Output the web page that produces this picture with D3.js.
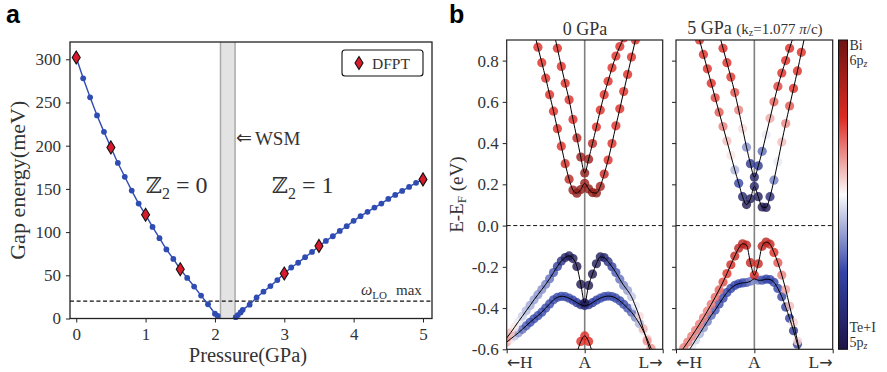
<!DOCTYPE html>
<html><head><meta charset="utf-8">
<script src="https://cdn.jsdelivr.net/npm/d3@7"></script>
<style>
body{margin:0;background:#fff}
svg text{font-family:"Liberation Serif","Times New Roman",serif;fill:#333}
.panel{font-family:"Liberation Sans",Arial,sans-serif !important;font-weight:bold;fill:#000 !important}
</style>
</head><body><svg id="fig" width="887" height="372"></svg>
<script>
// ---------- (a) gap energy vs pressure ----------
const pressureLow = [0,0.1,0.2,0.3,0.4,0.5,0.6,0.7,0.8,0.9,1.0,1.1,1.2,1.3,1.4,1.5,1.6,1.7,1.8,1.9,2.0,2.04];
const gapLow      = [302,278,256,235,216,198,180,164,148,133,120,106,93,80,69,57,47,37,26.5,16.5,5.5,3];
const pressureHigh = [2.3,2.33,2.37,2.4,2.5,2.6,2.7,2.8,2.9,3.0,3.1,3.2,3.3,3.4,3.5,3.6,3.7,3.8,3.9,4.0,4.1,4.2,4.3,4.4,4.5,4.6,4.7,4.8,4.9,5.0];
const gapHigh      = [1.5,4,7,10,16,24.3,31,37.5,44.5,52,59,64.5,71,77,83.6,89.8,95.2,101.4,106.8,113,118.4,123.4,128.4,133,138.4,143,147.6,152.3,157,161];
const dfptPressure = [0,0.5,1.0,1.5,3.0,3.5,5.0];
const dfptGap      = [302,198,120,57,52,84,161];
const wsmRange = [2.08,2.29];
const omegaLOmax = 20;
const pressureTicks = [0,1,2,3,4,5];
const gapTicks = [0,50,100,150,200,250,300];

// ---------- (b) band structures along H-A-L ----------
const kPath = [-1,-0.95,-0.9,-0.85,-0.8,-0.75,-0.7,-0.65,-0.6,-0.55,-0.5,-0.45,-0.4,-0.35,-0.3,-0.25,-0.2,-0.15,-0.1,-0.05,0,0.05,0.1,0.15,0.2,0.25,0.3,0.35,0.4,0.45,0.5,0.55,0.6,0.65,0.7,0.75,0.8,0.85,0.9,0.95,1];
const energyTicks = [-0.6,-0.4,-0.2,0,0.2,0.4,0.6,0.8];
const kLabels = ["H","A","L"];

// 0 GPa: energies (eV) and Bi-6pz (+) / Te+I-5pz (−) character
const gp0_c1_E = [1.50,1.42,1.34,1.26,1.18,1.10,1.02,0.94,0.865,0.79,0.715,0.635,0.555,0.47,0.385,0.30,0.225,0.172,0.157,0.175,0.205,0.178,0.16,0.158,0.19,0.25,0.318,0.398,0.484,0.566,0.65,0.733,0.817,0.90,0.98,1.06,1.14,1.22,1.30,1.38,1.46];
const gp0_c1_w = [0.5,0.5,0.5,0.5,0.5,0.5,0.5,0.5,0.5,0.5,0.5,0.5,0.5,0.5,0.5,0.55,0.65,0.8,0.85,0.85,0.8,0.85,0.85,0.85,0.75,0.6,0.5,0.5,0.5,0.5,0.5,0.5,0.5,0.5,0.5,0.5,0.5,0.5,0.5,0.5,0.5];
const gp0_c2_E = [1.965,1.88,1.795,1.71,1.625,1.54,1.455,1.37,1.285,1.2,1.115,1.03,0.945,0.86,0.772,0.69,0.61,0.515,0.425,0.332,0.255,0.322,0.398,0.478,0.56,0.635,0.70,0.765,0.822,0.868,0.91,0.955,1.0,1.05,1.1,1.15,1.2,1.25,1.3,1.35,1.4];
const gp0_c2_w = [0.5,0.5,0.5,0.5,0.5,0.5,0.5,0.5,0.5,0.5,0.5,0.5,0.5,0.5,0.5,0.5,0.5,0.5,0.65,0.8,0.85,0.8,0.65,0.5,0.5,0.5,0.5,0.5,0.5,0.5,0.5,0.5,0.5,0.5,0.5,0.5,0.5,0.5,0.5,0.5,0.5];
const gp0_v1_E = [-0.545,-0.52,-0.493,-0.466,-0.44,-0.413,-0.387,-0.36,-0.335,-0.31,-0.285,-0.258,-0.228,-0.198,-0.172,-0.155,-0.147,-0.16,-0.198,-0.285,-0.375,-0.29,-0.235,-0.185,-0.152,-0.155,-0.175,-0.2,-0.228,-0.26,-0.29,-0.315,-0.345,-0.39,-0.44,-0.5,-0.56,-0.62,-0.68,-0.74,-0.8];
const gp0_v1_w = [0.25,0.15,0.05,-0.05,-0.12,-0.18,-0.22,-0.25,-0.28,-0.3,-0.33,-0.38,-0.45,-0.55,-0.7,-0.82,-0.9,-0.92,-0.95,-0.95,-0.95,-0.95,-0.95,-0.92,-0.9,-0.82,-0.7,-0.55,-0.45,-0.38,-0.32,-0.25,-0.15,-0.05,0.08,0.18,0.25,0.3,0.3,0.3,0.3];
const gp0_v2_E = [-0.565,-0.55,-0.535,-0.52,-0.503,-0.486,-0.469,-0.452,-0.437,-0.42,-0.4,-0.38,-0.36,-0.348,-0.343,-0.345,-0.352,-0.362,-0.374,-0.384,-0.388,-0.384,-0.374,-0.362,-0.352,-0.345,-0.342,-0.344,-0.352,-0.365,-0.382,-0.4,-0.42,-0.445,-0.475,-0.51,-0.55,-0.595,-0.64,-0.685,-0.73];
const gp0_v2_w = [0.2,0.05,-0.15,-0.28,-0.38,-0.44,-0.48,-0.48,-0.48,-0.48,-0.48,-0.48,-0.48,-0.48,-0.48,-0.48,-0.48,-0.5,-0.55,-0.65,-0.75,-0.65,-0.55,-0.5,-0.48,-0.48,-0.48,-0.48,-0.48,-0.48,-0.48,-0.45,-0.4,-0.32,-0.2,-0.05,0.12,0.25,0.25,0.25,0.25];
const kLambda   = [-0.2,-0.15,-0.1,-0.05,0,0.05,0.1,0.15,0.2];
const gp0_v3_E  = [-0.8,-0.7,-0.62,-0.562,-0.535,-0.562,-0.62,-0.7,-0.8];
const gp0_v3_w  = [0.5,0.5,0.5,0.5,0.5,0.5,0.5,0.5,0.5];

// 5 GPa (kz = 1.077 pi/c)
const gp5_c1_E = [1.32,1.25,1.18,1.11,1.04,0.97,0.9,0.83,0.76,0.69,0.62,0.55,0.48,0.41,0.34,0.27,0.205,0.14,0.102,0.13,0.19,0.14,0.09,0.088,0.14,0.22,0.31,0.405,0.495,0.58,0.665,0.75,0.84,0.93,1.02,1.11,1.2,1.29,1.38,1.47,1.56];
const gp5_c1_w = [0.5,0.5,0.5,0.5,0.5,0.5,0.5,0.5,0.5,0.5,0.45,0.4,0.3,0.15,0.05,-0.2,-0.5,-0.8,-0.95,-0.9,-0.85,-0.9,-0.95,-0.95,-0.75,-0.35,-0.05,0.15,0.28,0.4,0.5,0.5,0.5,0.5,0.5,0.5,0.5,0.5,0.5,0.5,0.5];
const gp5_c2_E = [1.8,1.72,1.64,1.56,1.48,1.4,1.32,1.24,1.16,1.08,1.0,0.93,0.86,0.79,0.72,0.645,0.56,0.47,0.38,0.3,0.235,0.29,0.36,0.44,0.52,0.6,0.675,0.74,0.8,0.86,0.92,0.98,1.04,1.1,1.16,1.22,1.28,1.34,1.4,1.46,1.52];
const gp5_c2_w = [0.5,0.5,0.5,0.5,0.5,0.5,0.5,0.5,0.5,0.5,0.5,0.5,0.5,0.5,0.48,0.42,0.3,0.08,-0.3,-0.65,-0.85,-0.65,-0.4,-0.05,0.2,0.38,0.45,0.5,0.5,0.5,0.5,0.5,0.5,0.5,0.5,0.5,0.5,0.5,0.5,0.5,0.5];
const gp5_v1_E = [-0.645,-0.62,-0.592,-0.565,-0.537,-0.508,-0.478,-0.447,-0.415,-0.382,-0.348,-0.312,-0.274,-0.233,-0.19,-0.148,-0.11,-0.088,-0.095,-0.18,-0.24,-0.185,-0.1,-0.08,-0.09,-0.13,-0.18,-0.24,-0.31,-0.39,-0.47,-0.56,-0.65,-0.74,-0.83,-0.92,-1.01,-1.1,-1.19,-1.28,-1.37];
const gp5_v1_w = [0.3,0.3,0.3,0.3,0.3,0.3,0.3,0.3,0.3,0.32,0.35,0.38,0.42,0.48,0.55,0.6,0.65,0.65,0.65,0.6,0.5,0.6,0.65,0.65,0.6,0.5,0.4,0.3,0.22,0.15,0.1,0.1,0.1,0.1,0.1,0.1,0.1,0.1,0.1,0.1,0.1];
const gp5_v2_E = [-0.72,-0.69,-0.655,-0.615,-0.585,-0.555,-0.525,-0.495,-0.465,-0.435,-0.41,-0.38,-0.352,-0.325,-0.305,-0.29,-0.282,-0.278,-0.276,-0.27,-0.258,-0.265,-0.265,-0.26,-0.262,-0.275,-0.305,-0.345,-0.395,-0.45,-0.51,-0.575,-0.64,-0.71,-0.78,-0.85,-0.92,-0.99,-1.06,-1.13,-1.2];
const gp5_v2_w = [0.2,0.15,0.1,0.05,-0.05,-0.12,-0.2,-0.28,-0.35,-0.4,-0.45,-0.48,-0.5,-0.5,-0.5,-0.5,-0.5,-0.5,-0.45,-0.35,-0.28,-0.35,-0.45,-0.5,-0.5,-0.5,-0.5,-0.5,-0.55,-0.55,-0.6,-0.6,-0.6,-0.6,-0.6,-0.6,-0.6,-0.6,-0.6,-0.6,-0.6];

const svg = d3.select("#fig");

// ================= panel (a) =================
const PA = {x0:70, x1:432, y0:42, y1:318.5};
const xA = d3.scaleLinear().domain([-0.09,5.13]).range([PA.x0,PA.x1]);
const yA = d3.scaleLinear().domain([0,320]).range([PA.y1,PA.y0]);
const ga = svg.append("g");

ga.append("rect").attr("x",xA(wsmRange[0])).attr("y",PA.y0)
  .attr("width",xA(wsmRange[1])-xA(wsmRange[0])).attr("height",PA.y1-PA.y0).attr("fill","#e3e3e3");
wsmRange.forEach(p => ga.append("line").attr("x1",xA(p)).attr("x2",xA(p)).attr("y1",PA.y0).attr("y2",PA.y1)
  .attr("stroke","#aaa").attr("stroke-width",1.5));

ga.append("line").attr("x1",PA.x0).attr("x2",PA.x1).attr("y1",yA(omegaLOmax)).attr("y2",yA(omegaLOmax))
  .attr("stroke","#111").attr("stroke-width",1.2).attr("stroke-dasharray","4,2.6");

const blue = "#2f4cb3";
const lineA = d3.line().x(d=>xA(d[0])).y(d=>yA(d[1]));
[[pressureLow,gapLow],[pressureHigh,gapHigh]].forEach(([ps,gs]) => {
  const pts = ps.map((p,i)=>[p,gs[i]]);
  ga.append("path").attr("d",lineA(pts)).attr("fill","none").attr("stroke",blue).attr("stroke-width",1.4);
  ga.selectAll(null).data(pts).enter().append("circle")
    .attr("cx",d=>xA(d[0])).attr("cy",d=>yA(d[1])).attr("r",2.9).attr("fill",blue);
});
const diamond = "M0,-6.5L4,0L0,6.5L-4,0Z";
ga.selectAll(null).data(dfptPressure.map((p,i)=>[p,dfptGap[i]])).enter().append("path")
  .attr("d",diamond).attr("transform",d=>`translate(${xA(d[0])},${yA(d[1])})`)
  .attr("fill","#d81b2c").attr("stroke","#111").attr("stroke-width",1.1);

// axes
const axA_x = ga.append("g").attr("transform",`translate(0,${PA.y1})`)
  .call(d3.axisBottom(xA).tickValues(pressureTicks).tickSize(4).tickPadding(5).tickFormat(d3.format("d")));
const axA_y = ga.append("g").attr("transform",`translate(${PA.x0},0)`)
  .call(d3.axisLeft(yA).tickValues(gapTicks).tickSize(4).tickPadding(5).tickFormat(d3.format("d")));
[axA_x,axA_y].forEach(ax => {
  ax.select(".domain").remove();
  ax.selectAll(".tick line").attr("stroke","#222").attr("stroke-width",1);
  ax.selectAll(".tick text").attr("font-size",17).attr("fill","#444").style("font-family","Liberation Serif");
});
ga.append("rect").attr("x",PA.x0).attr("y",PA.y0).attr("width",PA.x1-PA.x0).attr("height",PA.y1-PA.y0)
  .attr("fill","none").attr("stroke","#222").attr("stroke-width",1.3);

ga.append("text").attr("transform",`translate(25,${(PA.y0+PA.y1)/2}) rotate(-90)`).attr("text-anchor","middle")
  .attr("font-size",22).attr("fill","#444").text("Gap energy(meV)");
ga.append("text").attr("x",(PA.x0+PA.x1)/2-3).attr("y",362).attr("text-anchor","middle")
  .attr("font-size",20.5).attr("fill","#444").text("Pressure(GPa)");

function z2Label(x, val) {
  const t = ga.append("text").attr("x",x).attr("y",193).attr("font-size",24).attr("fill","#444");
  t.append("tspan").style("font-family","DejaVu Serif").attr("font-size",22).text("ℤ");
  t.append("tspan").attr("font-size",16).attr("dy",6).text("2");
  t.append("tspan").attr("dy",-6).text(" = " + val);
}
z2Label(146, "0");
z2Label(272, "1");

const wsm = ga.append("text").attr("x",236).attr("y",145).attr("font-size",19).attr("fill","#444");
wsm.append("tspan").style("font-family","DejaVu Sans").attr("font-size",19).attr("dy",-1).text("⇐");
wsm.append("tspan").attr("dx",3).attr("dy",1).text("WSM");

const om = ga.append("text").attr("x",361).attr("y",295).attr("font-size",16).attr("fill","#444");
om.append("tspan").attr("font-style","italic").text("ω");
om.append("tspan").attr("font-size",11).attr("dy",4).text("LO");
om.append("tspan").attr("dy",-4).attr("dx",9).attr("font-size",15).text("max");

// legend
ga.append("rect").attr("x",342).attr("y",50).attr("width",81).attr("height",26).attr("rx",3)
  .attr("fill","#fff").attr("stroke","#111").attr("stroke-width",1.1);
ga.append("path").attr("d",diamond).attr("transform","translate(359,63)")
  .attr("fill","#d81b2c").attr("stroke","#111").attr("stroke-width",1.1);
ga.append("text").attr("x",372).attr("y",68.5).attr("font-size",15.5).attr("fill","#333").text("DFPT");

svg.append("text").attr("class","panel").attr("x",6).attr("y",23).attr("font-size",25).text("a");
svg.append("text").attr("class","panel").attr("x",449).attr("y",23).attr("font-size",25).text("b");

// ================= panel (b) =================
const PB = {y0:40, y1:349.3};
const yB = d3.scaleLinear().domain([-0.6,0.9]).range([PB.y1,PB.y0]);
const cmap = d3.scaleLinear().domain([-1,-0.5,0,0.5,1])
  .range(["#1e1447","#3344a8","#fbfbfb","#dc2a22","#6e1414"]).clamp(true);

const fmtE = d => d.toFixed(1);

function bandPanel(id, x0, x1, bands, withLabels) {
  const xB = d3.scaleLinear().domain([-1,1]).range([x0,x1]);
  const g = svg.append("g");
  g.append("clipPath").attr("id",id).append("rect").attr("x",x0).attr("y",PB.y0)
    .attr("width",x1-x0).attr("height",PB.y1-PB.y0);
  const body = g.append("g").attr("clip-path",`url(#${id})`);
  body.append("line").attr("x1",xB(0)).attr("x2",xB(0)).attr("y1",PB.y0).attr("y2",PB.y1)
    .attr("stroke","#808080").attr("stroke-width",1.6);
  body.append("line").attr("x1",x0).attr("x2",x1).attr("y1",yB(0)).attr("y2",yB(0))
    .attr("stroke","#111").attr("stroke-width",1).attr("stroke-dasharray","4,2.6");
  const line = d3.line().x(d=>xB(d.k)).y(d=>yB(d.E)).curve(d3.curveMonotoneX);
  const sets = bands.map(b => b.k.map((k,i)=>({k, E:b.E[i], w:b.w[i]})));
  sets.forEach(pts => {
    body.selectAll(null).data(pts).enter().append("circle")
      .attr("cx",d=>xB(d.k)).attr("cy",d=>yB(d.E)).attr("r",4.6)
      .attr("fill",d=>cmap(d.w)).attr("fill-opacity",0.8);
  });
  sets.forEach(pts => {
    body.append("path").attr("d",line(pts)).attr("fill","none").attr("stroke","#000").attr("stroke-width",1);
  });
  g.append("rect").attr("x",x0).attr("y",PB.y0).attr("width",x1-x0).attr("height",PB.y1-PB.y0)
    .attr("fill","none").attr("stroke","#222").attr("stroke-width",1.2);
  const ay = g.append("g").attr("transform",`translate(${x0},0)`)
    .call(d3.axisLeft(yB).tickValues(energyTicks).tickSize(4).tickPadding(4).tickFormat(withLabels?fmtE:""));
  ay.select(".domain").remove();
  ay.selectAll(".tick line").attr("stroke","#222");
  ay.selectAll(".tick text").attr("font-size",17).attr("fill","#444").style("font-family","Liberation Serif");
  const ax = g.append("g").attr("transform",`translate(0,${PB.y1})`)
    .call(d3.axisBottom(xB).tickValues([-1,0,1]).tickSize(4).tickFormat(""));
  ax.select(".domain").remove();
  ax.selectAll(".tick line").attr("stroke","#222");
  const lh = g.append("text").attr("x",x0).attr("y",368).attr("font-size",17.5).attr("fill","#444");
  lh.append("tspan").style("font-family","DejaVu Sans").attr("font-size",16).text("←");
  lh.append("tspan").text(kLabels[0]);
  g.append("text").attr("x",xB(0)).attr("y",368).attr("text-anchor","middle").attr("font-size",17.5).attr("fill","#444").text(kLabels[1]);
  const ll = g.append("text").attr("x",x1).attr("y",368).attr("text-anchor","end").attr("font-size",17.5).attr("fill","#444");
  ll.append("tspan").text(kLabels[2]);
  ll.append("tspan").style("font-family","DejaVu Sans").attr("font-size",16).text("→");
  return g;
}

bandPanel("clip0", 506.7, 662.7, [
  {k:kPath, E:gp0_c1_E, w:gp0_c1_w},
  {k:kPath, E:gp0_c2_E, w:gp0_c2_w},
  {k:kPath, E:gp0_v2_E, w:gp0_v2_w},
  {k:kPath, E:gp0_v1_E, w:gp0_v1_w},
  {k:kLambda, E:gp0_v3_E, w:gp0_v3_w}
], true);
bandPanel("clip5", 676, 832.7, [
  {k:kPath, E:gp5_c1_E, w:gp5_c1_w},
  {k:kPath, E:gp5_c2_E, w:gp5_c2_w},
  {k:kPath, E:gp5_v2_E, w:gp5_v2_w},
  {k:kPath, E:gp5_v1_E, w:gp5_v1_w}
], false);

// titles
svg.append("text").attr("x",585).attr("y",35).attr("text-anchor","middle").attr("font-size",18).attr("fill","#444").text("0 GPa");
const t5 = svg.append("text").attr("x",755).attr("y",34).attr("text-anchor","middle").attr("font-size",18).attr("fill","#444");
t5.append("tspan").text("5 GPa ");
t5.append("tspan").attr("font-size",15).text("(k");
t5.append("tspan").attr("font-size",10).attr("dy",2).text("z");
t5.append("tspan").attr("font-size",15).attr("dy",-2).text("=1.077 ");
t5.append("tspan").attr("font-size",15).attr("font-style","italic").text("π");
t5.append("tspan").attr("font-size",15).text("/c)");

const yl = svg.append("text").attr("transform",`translate(463,${(PB.y0+PB.y1)/2}) rotate(-90)`)
  .attr("text-anchor","middle").attr("font-size",19).attr("fill","#444");
yl.append("tspan").text("E-E");
yl.append("tspan").attr("font-size",13).attr("dy",3).text("F");
yl.append("tspan").attr("dy",-3).text(" (eV)");

// colour bar
const defs = svg.append("defs");
const grad = defs.append("linearGradient").attr("id","cbar").attr("x1",0).attr("x2",0).attr("y1",1).attr("y2",0);
cmap.domain().forEach(v => grad.append("stop").attr("offset",(v+1)/2).attr("stop-color",cmap(v)));
svg.append("rect").attr("x",838.5).attr("y",PB.y0).attr("width",9).attr("height",PB.y1-PB.y0)
  .attr("fill","url(#cbar)").attr("stroke","#111").attr("stroke-width",1);
function cbLabel(y1, main, y2, orb) {
  svg.append("text").attr("x",849.5).attr("y",y1).attr("font-size",14).attr("fill","#444").text(main);
  const t = svg.append("text").attr("x",849.5).attr("y",y2).attr("font-size",14).attr("fill","#444");
  t.append("tspan").text(orb);
  t.append("tspan").attr("font-size",10).attr("dy",2).attr("font-style","italic").text("z");
}
cbLabel(50, "Bi", 65, "6p");
cbLabel(332, "Te+I", 347, "5p");
</script></body></html>
